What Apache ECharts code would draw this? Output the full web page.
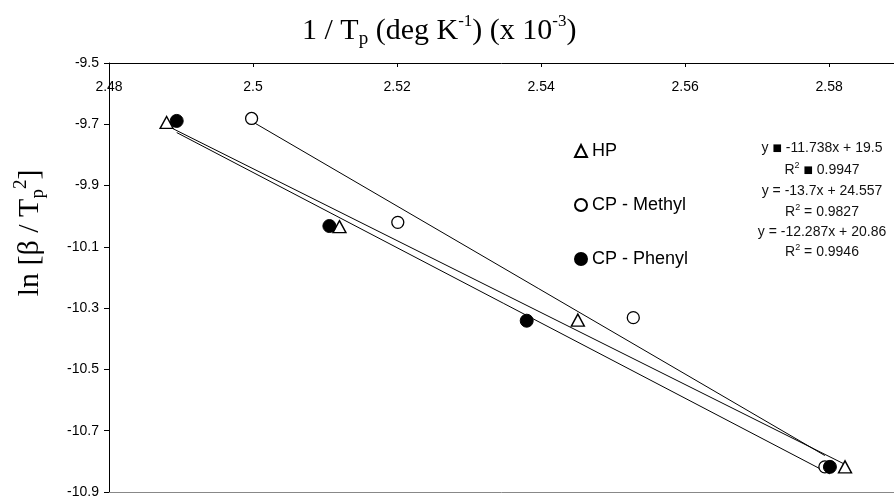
<!DOCTYPE html>
<html><head><meta charset="utf-8">
<script src="https://cdn.jsdelivr.net/npm/echarts@6/dist/echarts.min.js"></script>
<style>html,body{margin:0;padding:0;background:#fff}#c{width:894px;height:499px}</style>
</head><body><div id="c"></div>
<script>
// x axis: 1/Tp (x 10^-3), y axis: ln[beta/Tp^2]
const xTickLabels = [2.48, 2.5, 2.52, 2.54, 2.56, 2.58];
const yTickLabels = [-9.5, -9.7, -9.9, -10.1, -10.3, -10.5, -10.7, -10.9];

const seriesNames = ['HP', 'CP - Methyl', 'CP - Phenyl'];

const hpX = [2.488, 2.512, 2.5451, 2.5822];
const hpY = [-9.694, -10.034, -10.339, -10.818];

const methylX = [2.4998, 2.5201, 2.5528, 2.5794];
const methylY = [-9.681, -10.020, -10.331, -10.818];

const phenylX = [2.4894, 2.5106, 2.5380, 2.5801];
const phenylY = [-9.689, -10.032, -10.341, -10.818];

// trendline end points
const hpTrendX = [2.488, 2.5822];
const hpTrendY = [-9.704, -10.810];
const methylTrendX = [2.4998, 2.5794];
const methylTrendY = [-9.690, -10.781];
const phenylTrendX = [2.4894, 2.5801];
const phenylTrendY = [-9.727, -10.841];

const equationLines = [
  'y {b|■} -11.738x + 19.5',
  'R{s|2} {b|■} 0.9947',
  'y = -13.7x + 24.557',
  'R{s|2} = 0.9827',
  'y = -12.287x + 20.86',
  'R{s|2} = 0.9946'
];

const zip = (xs, ys) => xs.map((x, i) => [x, ys[i]]);

const SANS = 'Liberation Sans, Arial, sans-serif';
const SERIF = 'Liberation Serif, Times New Roman, serif';

const chart = echarts.init(document.getElementById('c'), null, {renderer: 'canvas'});

const eqY = [148, 170, 191, 212, 232, 252];

const option = {
  backgroundColor: '#fff',
  animation: false,
  title: {
    text: '1 / T{sub|p} (deg K{sup|-1}) (x 10{sup|-3})',
    left: 302,
    top: 13,
    padding: 0,
    textStyle: {
      fontFamily: SERIF, fontSize: 30, fontWeight: 'normal', color: '#000', lineHeight: 36,
      rich: {
        sub: {fontFamily: SERIF, fontSize: 19, lineHeight: 16, verticalAlign: 'bottom', color: '#000'},
        sup: {fontFamily: SERIF, fontSize: 17, lineHeight: 16, verticalAlign: 'top', color: '#000'}
      }
    }
  },
  legend: {
    orient: 'vertical',
    left: 569,
    top: 137,
    itemGap: 36,
    itemWidth: 12,
    itemHeight: 12,
    data: seriesNames,
    textStyle: {fontFamily: SANS, fontSize: 18, color: '#000'},
    selectedMode: false
  },
  grid: {left: 109, right: 0, top: 63, bottom: 3, containLabel: false},
  xAxis: [{
    type: 'value',
    position: 'top',
    min: xTickLabels[0],
    max: 2.589,
    interval: 0.02,
    axisLine: {show: true, onZero: false, lineStyle: {color: '#000', width: 1}},
    axisTick: {show: true, inside: true, length: 4, lineStyle: {color: '#000'}},
    axisLabel: {
      inside: true, margin: 17, showMaxLabel: false,
      fontFamily: SANS, fontSize: 14, color: '#000',
      formatter: v => String(parseFloat(v.toFixed(2)))
    },
    splitLine: {show: false}
  }, {
    type: 'value',
    position: 'bottom',
    min: xTickLabels[0],
    max: 2.589,
    interval: 0.02,
    axisLine: {show: true, onZero: false, lineStyle: {color: '#888', width: 1}},
    axisTick: {show: false},
    axisLabel: {show: false},
    splitLine: {show: false}
  }],
  yAxis: {
    type: 'value',
    min: yTickLabels[yTickLabels.length - 1],
    max: yTickLabels[0],
    interval: 0.2,
    axisLine: {show: true, onZero: false, lineStyle: {color: '#000', width: 1}},
    axisTick: {show: true, length: 5, lineStyle: {color: '#000'}},
    axisLabel: {
      margin: 10, fontFamily: SANS, fontSize: 14, color: '#000',
      formatter: v => v.toFixed(1)
    },
    splitLine: {show: false}
  },
  graphic: [
    {
      type: 'text',
      x: 30, y: 233,
      rotation: Math.PI / 2,
      style: {
        text: 'ln [β / T{sub|p}{sup|2}]',
        fontFamily: SERIF, fontSize: 30, fill: '#000',
        align: 'center', verticalAlign: 'middle',
        lineHeight: 36,
        rich: {
          sub: {fontFamily: SERIF, fontSize: 19, lineHeight: 16, verticalAlign: 'bottom', fill: '#000'},
          sup: {fontFamily: SERIF, fontSize: 19, lineHeight: 16, verticalAlign: 'top', fill: '#000'}
        }
      }
    }
  ].concat(equationLines.map((t, i) => ({
    type: 'text',
    x: 822, y: eqY[i],
    style: {
      text: t,
      fontFamily: SANS, fontSize: 14, fill: '#111',
      align: 'center', verticalAlign: 'middle',
      lineHeight: 18,
      rich: {
        b: {fontFamily: 'DejaVu Sans', fontSize: 10, fill: '#000', lineHeight: 18},
        s: {fontFamily: SANS, fontSize: 9, fill: '#111', lineHeight: 12, verticalAlign: 'top'}
      }
    }
  }))),
  series: [
    {
      name: 'HP trend', type: 'line', data: zip(hpTrendX, hpTrendY), symbol: 'none',
      lineStyle: {color: '#000', width: 1}, silent: true, z: 1
    },
    {
      name: 'CP - Methyl trend', type: 'line', data: zip(methylTrendX, methylTrendY), symbol: 'none',
      lineStyle: {color: '#000', width: 1}, silent: true, z: 1
    },
    {
      name: 'CP - Phenyl trend', type: 'line', data: zip(phenylTrendX, phenylTrendY), symbol: 'none',
      lineStyle: {color: '#000', width: 1}, silent: true, z: 1
    },
    {
      name: seriesNames[0], type: 'scatter', data: zip(hpX, hpY), symbol: 'triangle', symbolSize: [13, 12],
      itemStyle: {color: '#fff', borderColor: '#000', borderWidth: 1.4, opacity: 1}, z: 3
    },
    {
      name: seriesNames[1], type: 'scatter', data: zip(methylX, methylY), symbol: 'circle', symbolSize: 12,
      itemStyle: {color: '#fff', borderColor: '#000', borderWidth: 1.3, opacity: 1}, z: 3
    },
    {
      name: seriesNames[2], type: 'scatter', data: zip(phenylX, phenylY), symbol: 'circle', symbolSize: 13,
      itemStyle: {color: '#000', borderColor: '#000', borderWidth: 1, opacity: 1}, z: 4
    }
  ]
};
chart.setOption(option);
</script>
</body></html>
